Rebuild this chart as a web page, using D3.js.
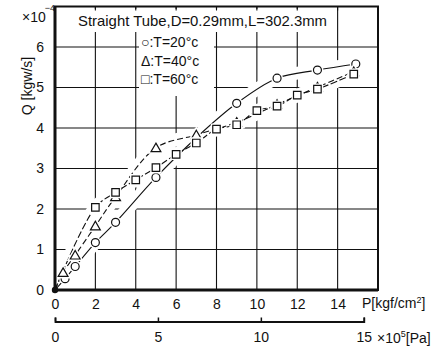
<!DOCTYPE html>
<html>
<head>
<meta charset="utf-8">
<script src="https://cdn.jsdelivr.net/npm/d3@7"></script>
<style>
  html, body { margin: 0; padding: 0; background: #fff; }
  svg { display: block; font-family: "Liberation Sans", Arial, sans-serif; }
  text { fill: #111; }
</style>
</head>
<body>
<svg id="chart" width="435" height="352"></svg>
<script>
// Flow rate Q (x10^-4 kgw/s) versus supply pressure P (kgf/cm^2)
const pressure20 = [0, 0.5, 1, 2, 3, 5, 7, 9, 11, 13, 14.9];
const flow20     = [0, 0.28, 0.58, 1.17, 1.67, 2.78, 3.76, 4.61, 5.23, 5.43, 5.58];

const pressure40 = [0, 0.4, 1, 2, 3, 5, 7, 9, 11, 13, 14.8];
const flow40     = [0, 0.43, 0.86, 1.58, 2.30, 3.51, 3.83, 4.14, 4.58, 5.01, 5.39];

const pressure60 = [0, 2, 3, 4, 5, 6, 7, 8, 9, 10, 11, 12, 13, 14.8];
const flow60     = [0, 2.04, 2.41, 2.72, 3.02, 3.35, 3.63, 3.97, 4.08, 4.43, 4.54, 4.81, 4.96, 5.33];

const seriesNames = ["T=20°c", "T=40°c", "T=60°c"];
const legendGlyphs = ["○", "Δ", "□"];

const xTicks = [0, 2, 4, 6, 8, 10, 12, 14];
const yTicks = [0, 1, 2, 3, 4, 5, 6];
const paTicks = [0, 5, 10, 15];
const KGF_PER_1E5_PA = 1 / 0.980665;

const svg = d3.select("#chart");
const x = d3.scaleLinear().domain([0, 16]).range([55, 378]);
const y = d3.scaleLinear().domain([0, 7]).range([290, 6.5]);

// grid
const grid = svg.append("g").attr("stroke", "#111").attr("stroke-width", 1.1);
grid.selectAll("line.v").data(xTicks.slice(1)).join("line")
  .attr("x1", d => x(d)).attr("x2", d => x(d))
  .attr("y1", y(7)).attr("y2", y(0));
grid.selectAll("line.h").data(yTicks.slice(1)).join("line")
  .attr("x1", x(0)).attr("x2", x(16))
  .attr("y1", d => y(d)).attr("y2", d => y(d));

// white panels behind title and legend
svg.append("rect").attr("x", 70).attr("y", 9).attr("width", 265).attr("height", 23).attr("fill", "#fff");
svg.append("rect").attr("x", 139).attr("y", 32).attr("width", 75).attr("height", 64).attr("fill", "#fff");

// short ticks hanging from the top border
svg.append("g").selectAll("line").data(xTicks.slice(1)).join("line")
  .attr("x1", d => x(d)).attr("x2", d => x(d))
  .attr("y1", y(7)).attr("y2", y(7) + 4)
  .attr("stroke", "#111").attr("stroke-width", 1.1);

const series = [
  { p: pressure20, q: flow20, dash: null, shape: "circle" },
  { p: pressure40, q: flow40, dash: "6,3", shape: "triangle" },
  { p: pressure60, q: flow60, dash: "7,2.5", shape: "square" }
].map(s => ({ ...s, pts: s.p.map((v, i) => [v, s.q[i]]) }));

const line = d3.line().x(d => x(d[0])).y(d => y(d[1])).curve(d3.curveCatmullRom.alpha(0.5));

// white halos that break the grid around the curves
svg.append("g").selectAll("path").data(series).join("path")
  .attr("d", d => line(d.pts)).attr("fill", "none")
  .attr("stroke", "#fff").attr("stroke-width", 13).attr("stroke-linecap", "round");

svg.append("g").selectAll("path").data(series).join("path")
  .attr("d", d => line(d.pts)).attr("fill", "none")
  .attr("stroke", "#111").attr("stroke-width", 1.1)
  .attr("stroke-dasharray", d => d.dash);

const symbolOf = {
  circle: d3.symbol(d3.symbolCircle, 50),
  triangle: d3.symbol(d3.symbolTriangle, 42),
  square: d3.symbol(d3.symbolSquare, 56)
};

series.forEach(s => {
  const g = svg.append("g");
  const pts = s.pts.slice(1);
  const pos = d => `translate(${x(d[0])},${y(d[1]) + (s.shape === "triangle" ? 1 : 0)})`;
  g.selectAll("path.halo").data(pts).join("path")
    .attr("transform", pos)
    .attr("d", symbolOf[s.shape]).attr("fill", "#fff").attr("stroke", "#fff").attr("stroke-width", 4);
  g.selectAll("path.mark").data(pts).join("path")
    .attr("transform", pos)
    .attr("d", symbolOf[s.shape]).attr("fill", "#fff").attr("stroke", "#111").attr("stroke-width", 1.2);
});

// origin point shared by all series
svg.append("circle").attr("cx", x(pressure20[0])).attr("cy", y(flow20[0]))
  .attr("r", 3.2).attr("fill", "#111");

// frame
svg.append("rect").attr("x", x(0)).attr("y", y(7))
  .attr("width", x(16) - x(0)).attr("height", y(0) - y(7))
  .attr("fill", "none").attr("stroke", "#111").attr("stroke-width", 2);
svg.append("path").attr("d", `M${x(0)},${y(7)}V${y(0)}H${x(16)}`)
  .attr("fill", "none").attr("stroke", "#111").attr("stroke-width", 3);

// axes labels
const font = "Liberation Sans, Arial, sans-serif";
const xAxis = svg.append("g").attr("transform", `translate(0,${y(0)})`)
  .call(d3.axisBottom(x).tickValues(xTicks).tickFormat(d3.format("d")).tickSize(0).tickPadding(9));
xAxis.select(".domain").remove();
xAxis.selectAll("text").attr("font-size", 14).attr("font-family", font).attr("fill", "#111");

const yAxis = svg.append("g").attr("transform", `translate(${x(0)},0)`)
  .call(d3.axisLeft(y).tickValues(yTicks).tickFormat(d3.format("d")).tickSize(0).tickPadding(11));
yAxis.select(".domain").remove();
yAxis.selectAll("text").attr("font-size", 14).attr("font-family", font).attr("fill", "#111");

// secondary pressure scale in 10^5 Pa
const xPa = d3.scaleLinear().domain([0, 15]).range([x(0), x(15 * KGF_PER_1E5_PA)]);
const paAxis = svg.append("g").attr("transform", "translate(0,321.5)")
  .call(d3.axisBottom(xPa).tickValues(paTicks).tickFormat(d3.format("d")).tickSize(-4).tickSizeOuter(-4).tickPadding(11));
paAxis.select(".domain").attr("stroke", "#111").attr("stroke-width", 1.8);
paAxis.selectAll(".tick line").attr("stroke", "#111").attr("stroke-width", 1.5);
paAxis.selectAll("text").attr("font-size", 14).attr("font-family", font).attr("fill", "#111");

const t = svg.append("g").attr("font-size", 14);
const pUnit = t.append("text").attr("x", 362).attr("y", 308);
pUnit.append("tspan").text("P[kgf/cm");
pUnit.append("tspan").attr("dy", -5).attr("font-size", 9).text("2");
pUnit.append("tspan").attr("dy", 5).text("]");

const paUnit = t.append("text").attr("x", 377).attr("y", 343);
paUnit.append("tspan").text("×10");
paUnit.append("tspan").attr("dy", -6).attr("font-size", 9).text("5");
paUnit.append("tspan").attr("dy", 6).text("[Pa]");

// multiplier for the Q axis: ×10⁻⁴
const qMul = t.append("text").attr("x", 22).attr("y", 22);
qMul.append("tspan").text("×10");
qMul.append("tspan").attr("dy", -11).attr("dx", -1).attr("font-size", 9).text("−4");

t.append("text").attr("transform", "translate(32,86) rotate(-90)")
  .attr("text-anchor", "middle").text("Q [kgw/s]");

t.append("text").attr("x", 78).attr("y", 26).attr("font-size", 15)
  .attr("textLength", 249).attr("lengthAdjust", "spacingAndGlyphs")
  .text("Straight Tube,D=0.29mm,L=302.3mm");

// legend
const leg = t.append("g");
seriesNames.forEach((name, i) => {
  leg.append("text").attr("x", 141).attr("y", 47 + i * 18.5)
    .text(legendGlyphs[i] + ":" + name);
});
</script>
</body>
</html>
